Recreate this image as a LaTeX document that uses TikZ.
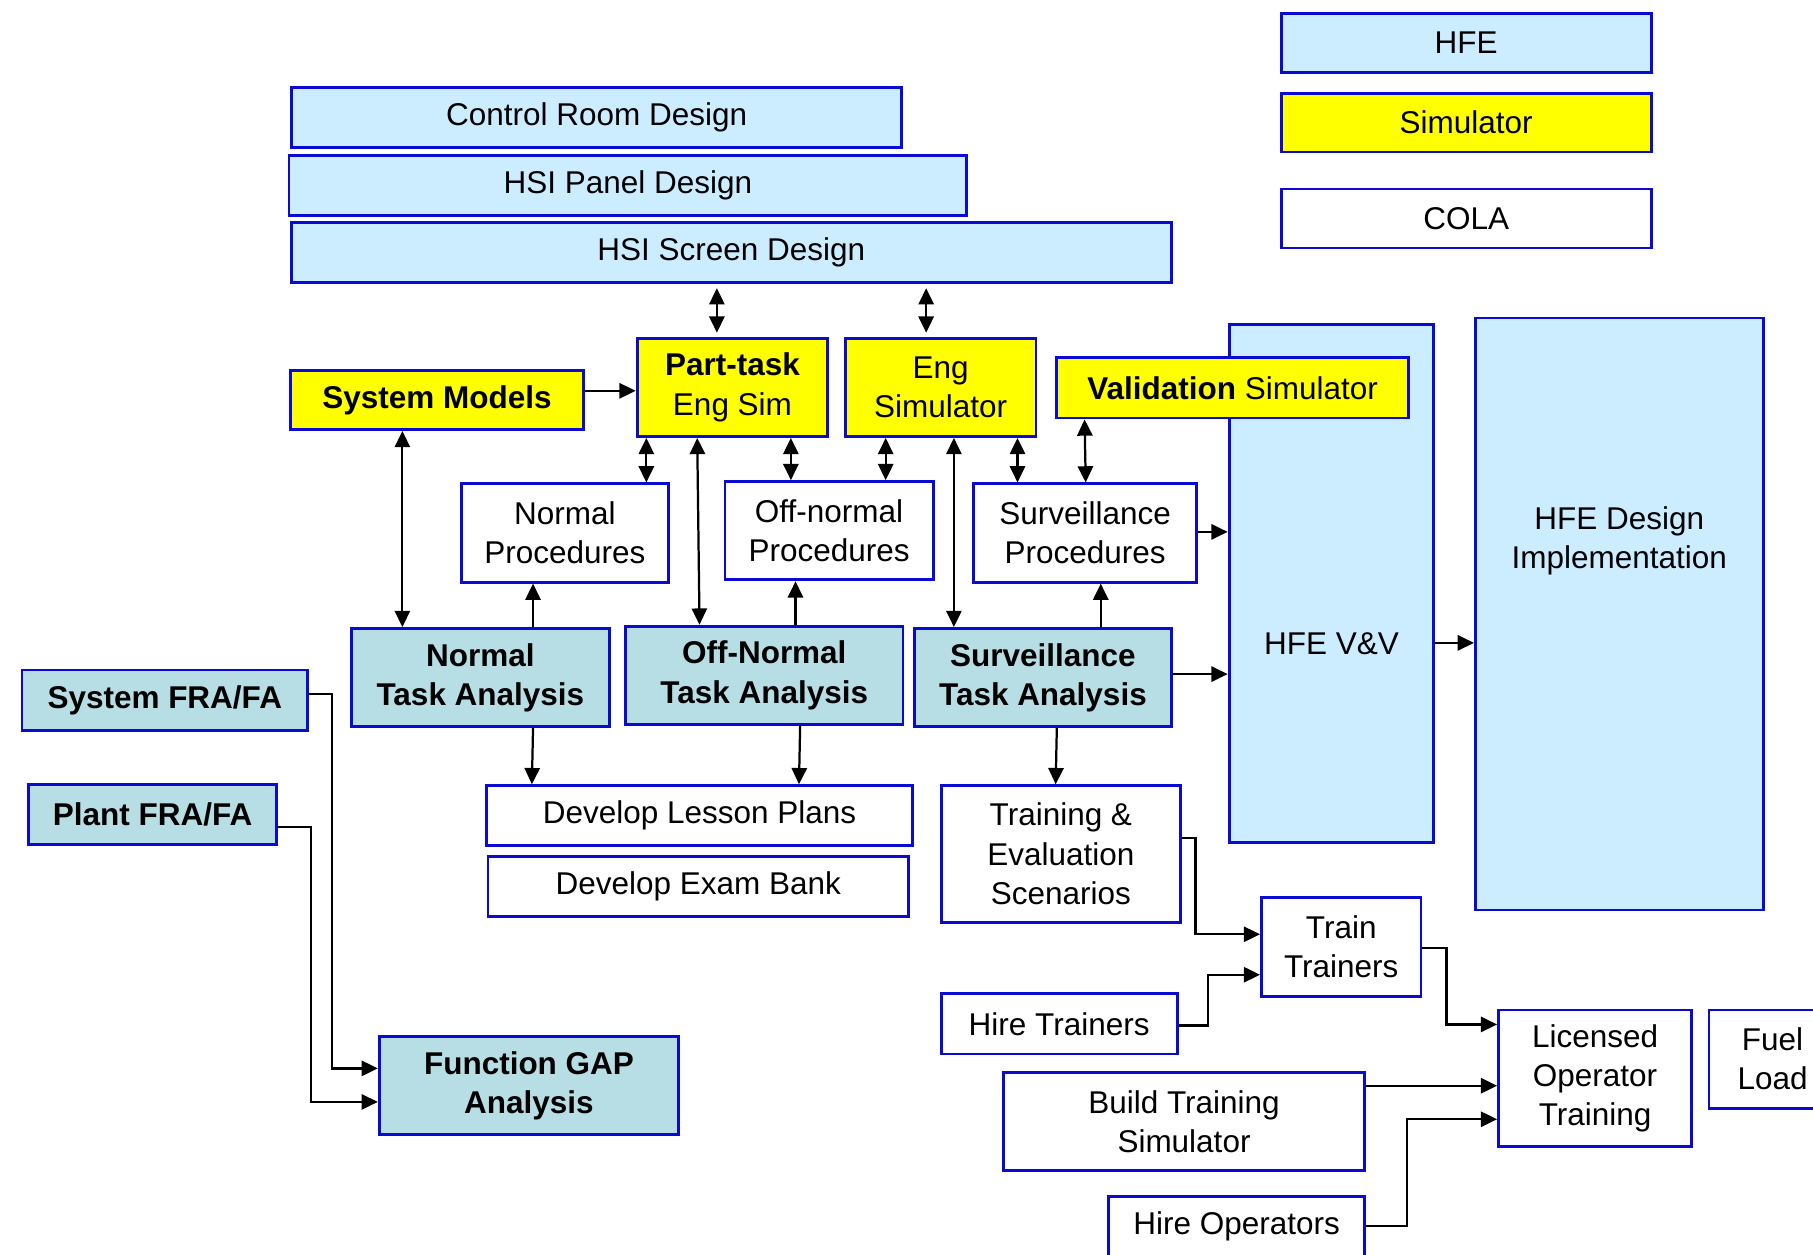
\documentclass[tikz,border=0pt]{standalone}
\usepackage{fontspec}
\setmainfont{Liberation Sans}
\usetikzlibrary{arrows.meta}
\newlength\pxl
\setlength\pxl{0.02cm}
\definecolor{bord}{RGB}{10,10,210}
\definecolor{hfeblue}{RGB}{204,236,255}
\definecolor{taskteal}{RGB}{183,222,228}
\definecolor{simyel}{RGB}{255,255,0}
\tikzset{
	blk/.style 2 args={draw=bord,line width=1.4pt,inner sep=0pt,align=center,minimum width=#1\pxl,minimum height=#2\pxl},
	hfe/.style 2 args={blk={#1}{#2},fill=hfeblue},
	sim/.style 2 args={blk={#1}{#2},fill=simyel},
	cola/.style 2 args={blk={#1}{#2},fill=white},
	tsk/.style 2 args={blk={#1}{#2},fill=taskteal,font=\fontsize{15.5}{19.3}\selectfont\bfseries},
	arr/.style={line width=1.1pt,-{Triangle[length=8pt,width=7.5pt]}},
	dbl/.style={line width=1.1pt,{Triangle[length=8pt,width=7.5pt]}-{Triangle[length=8pt,width=7.5pt]}}
}
\begin{document}
\begin{tikzpicture}[x=0.02cm,y=-0.02cm,font=\fontsize{15.5}{19.3}\selectfont]
						\useasboundingbox[fill=white] (0,0) rectangle (1568,1085);
						% key
						\node [hfe={320}{51}] (hfekey) at (1268,37) {HFE};
						\node [sim={320}{51}] (simkey) at (1268,106) {Simulator};
						\node [cola={320}{51}] (colakey) at (1268,189) {COLA};

						\node [hfe={528}{52}] (room) at (516,101.5) {Control Room Design};
						\node [hfe={586}{52}] (panel) at (543,160.5) {HSI Panel Design};
						\node [hfe={761}{52}] (screen) at (632.5,218.5) {HSI Screen Design};

						\node [sim={254}{51},font=\fontsize{15.5}{19.3}\selectfont\bfseries] (sysmod) at (378,346) {System Models};
						\node [sim={165}{85}] (parttask) at (633.5,335) {\textbf{Part-task}\\Eng Sim};
						\node [sim={165}{85}] (engsim) at (813.5,335) {Eng\\Simulator};
						\node [hfe={177}{448},label={[yshift=-52\pxl]center:HFE V\&V}] (hfevv) at (1151.5,505) {};
						\node [hfe={249}{512},label={[yshift=63\pxl,align=center]center:HFE Design\\Implementation}] (impl) at (1400.5,531) {};
						\node [sim={304}{52}] (valsim) at (1066,335.5) {\textbf{Validation} Simulator};

						\node [cola={179}{85}] (normproc) at (488.5,461) {Normal\\Procedures};
						\node [cola={180}{85}] (offproc) at (717,459) {Off-normal\\Procedures};
						\node [cola={193}{85}] (survproc) at (938.5,461) {Surveillance\\Procedures};

						\node [tsk={223}{85}] (normta) at (415.5,586) {Normal\\Task Analysis};
						\node [tsk={240}{85}] (offta) at (661,584) {Off-Normal\\Task Analysis};
						\node [tsk={222}{85}] (survta) at (902,586) {Surveillance\\Task Analysis};
						\node [tsk={247}{52}] (sysfra) at (142.5,605.5) {System FRA/FA};
						\node [tsk={214}{52}] (plantfra) at (132,704.5) {Plant FRA/FA};
						\node [tsk={259}{85}] (gap) at (457.5,939) {Function GAP\\Analysis};

						\node [cola={368}{52}] (lesson) at (605,705.5) {Develop Lesson Plans};
						\node [cola={364}{52}] (exam) at (604,766.5) {Develop Exam Bank};
						\node [cola={207}{118}] (traineval) at (917.5,738.5) {Training \&\\Evaluation\\Scenarios};
						\node [cola={138}{85}] (traintr) at (1160,819) {Train\\Trainers};
						\node [cola={204}{52}] (hiretr) at (916,885.5) {Hire Trainers};
						\node [cola={167}{118}] (lot) at (1379.5,932.5) {Licensed\\Operator\\Training};
						\node [cola={110}{85}] (fuel) at (1533,916) {Fuel\\Load};
						\node [cola={312}{85}] (buildsim) at (1024,970) {Build Training\\Simulator};
						\node [cola={221}{52}] (hireop) at (1069.5,1060.5) {Hire Operators};

						% simulators
						\draw [dbl,shorten <=2pt,shorten >=2pt] (screen.south -| 620,0) -- (parttask.north -| 620,0);
						\draw [dbl,shorten <=2pt,shorten >=2pt] (screen.south -| 801,0) -- (engsim.north -| 801,0);
						\draw [arr] (sysmod.east |- 0,338) -- (parttask.west |- 0,338);
						\draw [dbl] (sysmod.south -| 348,0) -- (normta.north -| 348,0);
						\draw [dbl] (parttask.south -| 559,0) -- (normproc.north -| 559,0);
						\draw [dbl] (parttask.south -| 603,0) -- (offta.north -| 605,0);
						\draw [dbl] (parttask.south -| 684,0) -- (offproc.north -| 684,0);
						\draw [dbl] (engsim.south -| 766,0) -- (offproc.north -| 766,0);
						\draw [dbl] (engsim.south -| 825,0) -- (survta.north -| 825,0);
						\draw [dbl] (engsim.south -| 880,0) -- (survproc.north -| 880,0);
						\draw [dbl] (valsim.south -| 938,0) -- (survproc.north -| 939,0);

						% task analysis
						\draw [arr] (normta.north -| 461,0) -- (normproc.south -| 461,0);
						\draw [arr] (offta.north -| 688,0) -- (offproc.south -| 688,0);
						\draw [arr] (survta.north -| 952,0) -- (survproc.south -| 952,0);
						\draw [arr] (survproc.east |- 0,460) -- (hfevv.west |- 0,460);
						\draw [arr] (survta.east |- 0,583) -- (hfevv.west |- 0,583);
						\draw [arr] (hfevv.east |- 0,556) -- (impl.west |- 0,556);
						\draw [arr] (normta.south -| 461,0) -- (lesson.north -| 460,0);
						\draw [arr] (offta.south -| 692,0) -- (lesson.north -| 691,0);
						\draw [arr] (survta.south -| 914,0) -- (traineval.north -| 913,0);

						% training
						\draw [arr] (traineval.east |- 0,725) -| (1034,808) -- (traintr.west |- 0,808);
						\draw [arr] (hiretr.east |- 0,887) -| (1045,843) -- (traintr.west |- 0,843);
						\draw [arr] (traintr.east |- 0,820) -| (1251,886) -- (lot.west |- 0,886);
						\draw [arr] (buildsim.east |- 0,939) -- (lot.west |- 0,939);
						\draw [arr] (hireop.east |- 0,1060) -| (1217,968) -- (lot.west |- 0,968);

						% FRA/FA
						\draw [arr] (sysfra.east |- 0,600) -| (287,924) -- (gap.west |- 0,924);
						\draw [arr] (plantfra.east |- 0,715) -| (269,953) -- (gap.west |- 0,953);
					\end{tikzpicture}
\end{document}
